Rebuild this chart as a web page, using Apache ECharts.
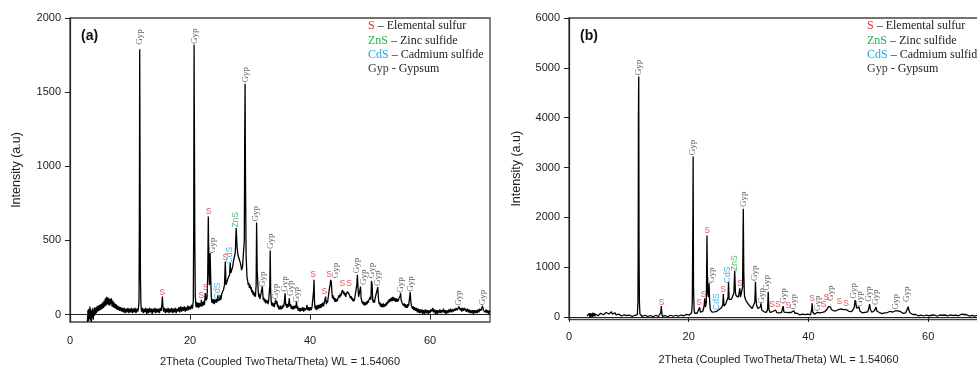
<!DOCTYPE html>
<html>
<head>
<meta charset="utf-8">
<script src="https://cdn.jsdelivr.net/npm/echarts@6/dist/echarts.min.js"></script>
<style>html,body{margin:0;padding:0;background:#fff}#c{width:977px;height:368px}</style>
</head>
<body>
<div id="c"></div>
<script>
// ---- data ----
const tickX = [0, 20, 40, 60];
const tickYA = [0, 500, 1000, 1500, 2000];
const tickYB = [0, 1000, 2000, 3000, 4000, 5000, 6000];
const panelTitles = ['(a)', '(b)'];
const xAxisName = '2Theta (Coupled TwoTheta/Theta) WL = 1.54060';
const yAxisName = 'Intensity (a.u)';
const legendKeys = ['S', 'ZnS', 'CdS', 'Gyp'];
const legendDescs = [' \u2013 Elemental sulfur', ' \u2013 Zinc sulfide', ' \u2013 Cadmium sulfide', ' - Gypsum'];

// pattern (a): [2theta, intensity]
const patternA = [[2.9,-50],[3.0,30],[3.08,-45],[3.16,40],[3.24,-30],[3.32,55],[3.4,-40],[3.48,35],[3.56,-50],[3.64,25],[3.72,-20],[3.8,45],[3.88,-35],[3.96,30],[4.04,-10],[4.12,50],[4.2,0],[4.3,45],[4.4,10],[4.5,55],[4.6,20],[4.7,60],[4.8,25],[4.9,65],[5.0,30],[5.1,70],[5.2,35],[5.3,75],[5.4,40],[5.5,85],[5.6,45],[5.7,95],[5.8,55],[5.9,110],[6.0,60],[6.1,120],[6.2,70],[6.3,115],[6.4,65],[6.5,110],[6.6,60],[6.7,105],[6.8,70],[6.9,110],[7.0,55],[7.1,95],[7.2,50],[7.3,85],[7.4,45],[7.5,75],[7.6,40],[7.7,70],[7.8,35],[7.9,60],[8.0,30],[8.15,55],[8.3,25],[8.45,50],[8.6,20],[8.75,45],[8.9,15],[9.05,45],[9.2,10],[9.35,40],[9.5,15],[9.65,45],[9.8,10],[9.95,40],[10.1,15],[10.25,45],[10.4,10],[10.55,40],[10.7,15],[10.85,45],[11.0,10],[11.15,40],[11.3,20],[11.42,50],[11.5,90],[11.56,600],[11.62,1790],[11.68,900],[11.74,250],[11.82,70],[11.92,20],[12.05,45],[12.2,10],[12.35,40],[12.5,15],[12.65,45],[12.8,5],[12.95,40],[13.1,10],[13.25,45],[13.4,15],[13.55,40],[13.7,5],[13.85,40],[14.0,15],[14.15,45],[14.3,10],[14.45,40],[14.6,15],[14.75,40],[14.9,10],[15.05,45],[15.2,25],[15.32,70],[15.4,121],[15.48,60],[15.6,20],[15.75,45],[15.9,10],[16.05,40],[16.2,15],[16.35,45],[16.5,10],[16.65,40],[16.8,15],[16.95,45],[17.1,10],[17.25,40],[17.4,15],[17.55,45],[17.7,10],[17.85,40],[18.0,20],[18.15,50],[18.3,15],[18.45,55],[18.6,20],[18.75,50],[18.9,25],[19.05,55],[19.2,20],[19.35,50],[19.5,25],[19.65,60],[19.8,30],[19.95,55],[20.1,35],[20.25,65],[20.4,40],[20.55,90],[20.62,600],[20.68,1820],[20.74,1200],[20.8,500],[20.88,120],[21.0,50],[21.1,85],[21.2,50],[21.3,80],[21.4,45],[21.5,80],[21.6,50],[21.7,75],[21.8,55],[21.9,100],[22.0,55],[22.1,85],[22.2,60],[22.3,90],[22.4,65],[22.55,145],[22.7,95],[22.85,115],[22.95,250],[23.05,662],[23.15,300],[23.25,200],[23.35,415],[23.45,250],[23.55,120],[23.65,80],[23.75,105],[23.85,75],[23.95,105],[24.05,70],[24.15,100],[24.25,80],[24.35,105],[24.45,80],[24.55,100],[24.65,130],[24.75,90],[24.85,115],[24.95,95],[25.05,130],[25.15,100],[25.3,140],[25.45,130],[25.6,170],[25.75,200],[25.88,358],[26.0,200],[26.15,210],[26.3,240],[26.45,230],[26.6,270],[26.7,350],[26.8,280],[26.95,300],[27.1,320],[27.25,360],[27.4,350],[27.55,420],[27.7,583],[27.85,450],[28.0,400],[28.15,410],[28.3,360],[28.45,340],[28.6,300],[28.75,320],[28.9,330],[29.05,500],[29.12,1200],[29.18,1557],[29.25,900],[29.35,400],[29.5,250],[29.6,230],[29.7,200],[29.8,215],[29.9,180],[30.0,200],[30.1,170],[30.2,185],[30.3,150],[30.4,165],[30.5,135],[30.6,155],[30.7,125],[30.8,145],[30.9,120],[31.02,200],[31.1,621],[31.2,300],[31.35,170],[31.45,120],[31.55,140],[31.65,105],[31.75,125],[31.9,120],[32.05,189],[32.2,100],[32.3,115],[32.4,85],[32.5,105],[32.6,75],[32.7,100],[32.8,80],[32.9,95],[33.0,70],[33.1,90],[33.2,85],[33.3,200],[33.37,432],[33.45,150],[33.55,80],[33.65,60],[33.75,80],[33.85,55],[33.95,75],[34.05,50],[34.15,75],[34.3,100],[34.4,70],[34.5,90],[34.6,50],[34.7,65],[34.8,35],[34.9,55],[35.0,35],[35.1,60],[35.2,35],[35.3,55],[35.4,40],[35.5,65],[35.6,50],[35.7,75],[35.85,144],[35.95,60],[36.05,75],[36.15,45],[36.25,70],[36.35,50],[36.45,75],[36.55,110],[36.65,55],[36.75,70],[36.85,40],[36.95,60],[37.05,35],[37.15,55],[37.25,35],[37.35,60],[37.45,40],[37.55,60],[37.65,45],[37.75,88],[37.85,40],[37.95,55],[38.05,25],[38.2,45],[38.35,20],[38.5,45],[38.65,25],[38.8,50],[38.95,20],[39.1,45],[39.25,30],[39.4,45],[39.5,65],[39.6,30],[39.75,50],[39.9,25],[40.05,50],[40.2,30],[40.35,55],[40.5,45],[40.6,160],[40.67,234],[40.75,90],[40.85,40],[40.95,60],[41.05,30],[41.15,60],[41.25,35],[41.35,65],[41.45,40],[41.55,65],[41.65,45],[41.75,70],[41.85,45],[41.95,75],[42.05,55],[42.15,80],[42.25,55],[42.35,75],[42.45,70],[42.6,121],[42.72,70],[42.82,95],[42.92,80],[43.02,110],[43.12,100],[43.25,180],[43.35,200],[43.45,234],[43.55,220],[43.65,150],[43.75,110],[43.85,130],[43.95,100],[44.05,115],[44.15,85],[44.25,110],[44.35,85],[44.45,105],[44.55,90],[44.65,110],[44.75,100],[44.85,130],[44.95,115],[45.05,140],[45.15,125],[45.25,150],[45.35,140],[45.45,165],[45.55,140],[45.65,155],[45.75,130],[45.85,145],[45.95,120],[46.05,140],[46.15,130],[46.25,155],[46.35,145],[46.45,165],[46.55,135],[46.65,140],[46.75,110],[46.85,125],[46.95,100],[47.05,115],[47.15,90],[47.25,105],[47.35,90],[47.45,110],[47.55,100],[47.65,120],[47.8,200],[47.9,268],[48.0,180],[48.1,120],[48.2,140],[48.3,150],[48.42,189],[48.52,110],[48.62,95],[48.72,75],[48.82,90],[48.92,65],[49.02,85],[49.12,60],[49.22,80],[49.32,65],[49.42,90],[49.52,70],[49.62,95],[49.72,80],[49.82,100],[49.92,90],[50.05,120],[50.15,100],[50.25,227],[50.35,200],[50.45,100],[50.55,80],[50.65,100],[50.75,80],[50.85,110],[50.95,100],[51.05,120],[51.15,110],[51.3,185],[51.42,100],[51.52,70],[51.62,85],[51.72,55],[51.82,75],[51.92,50],[52.02,70],[52.12,50],[52.22,75],[52.32,50],[52.42,70],[52.52,55],[52.62,75],[52.72,60],[52.82,85],[52.92,70],[53.02,95],[53.12,80],[53.22,105],[53.32,85],[53.42,110],[53.52,90],[53.62,115],[53.72,90],[53.82,120],[53.92,95],[54.02,115],[54.12,90],[54.22,110],[54.32,85],[54.42,110],[54.52,85],[54.62,105],[54.72,90],[54.82,110],[54.92,100],[55.02,125],[55.1,144],[55.2,95],[55.3,100],[55.4,75],[55.5,85],[55.6,60],[55.7,75],[55.8,50],[55.9,70],[56.0,45],[56.1,65],[56.2,45],[56.3,70],[56.4,55],[56.5,80],[56.6,90],[56.7,151],[56.8,90],[56.9,60],[57.0,70],[57.1,40],[57.2,55],[57.3,30],[57.45,50],[57.6,25],[57.75,45],[57.9,15],[58.05,40],[58.2,10],[58.35,35],[58.5,10],[58.65,35],[58.8,5],[58.95,30],[59.1,5],[59.25,35],[59.4,10],[59.55,30],[59.7,5],[59.85,30],[60.0,10],[60.15,35],[60.3,20],[60.45,45],[60.6,15],[60.75,35],[60.9,5],[61.05,30],[61.2,5],[61.35,30],[61.5,10],[61.65,35],[61.8,10],[61.95,30],[62.1,15],[62.25,40],[62.4,10],[62.55,30],[62.7,5],[62.85,30],[63.0,10],[63.15,35],[63.3,15],[63.45,40],[63.6,15],[63.75,35],[63.9,20],[64.05,40],[64.2,25],[64.35,45],[64.5,30],[64.65,40],[64.85,54],[65.0,30],[65.15,45],[65.3,20],[65.45,45],[65.6,25],[65.75,45],[65.9,50],[66.05,20],[66.2,40],[66.35,15],[66.5,35],[66.65,10],[66.8,30],[66.95,10],[67.1,30],[67.25,5],[67.4,30],[67.55,10],[67.7,30],[67.85,10],[68.0,35],[68.15,15],[68.3,40],[68.45,25],[68.6,40],[68.75,58],[68.9,30],[69.05,40],[69.2,15],[69.35,35],[69.5,10],[69.65,30],[69.8,5],[69.95,25],[70.0,15]];

// pattern (b): [2theta, intensity]
const patternB = [[3.0,20],[3.1,-20],[3.2,60],[3.3,0],[3.4,70],[3.5,-10],[3.6,80],[3.7,10],[3.8,70],[3.9,0],[4.0,90],[4.1,20],[4.2,80],[4.3,10],[4.4,60],[4.55,20],[4.7,60],[4.85,25],[5.0,65],[5.15,30],[5.3,75],[5.45,40],[5.6,80],[5.75,45],[5.9,85],[6.05,50],[6.2,90],[6.35,55],[6.5,95],[6.65,60],[6.8,100],[6.95,60],[7.1,105],[7.25,55],[7.4,95],[7.55,50],[7.7,85],[7.85,40],[8.0,70],[8.15,35],[8.3,60],[8.45,25],[8.6,55],[8.75,20],[8.9,45],[9.05,15],[9.2,45],[9.35,20],[9.5,55],[9.65,30],[9.8,50],[9.95,15],[10.1,40],[10.25,10],[10.4,40],[10.55,10],[10.7,35],[10.85,10],[11.0,35],[11.15,15],[11.3,40],[11.42,50],[11.52,300],[11.56,1400],[11.6,4050],[11.65,4827],[11.7,1400],[11.76,300],[11.85,60],[11.95,20],[12.1,40],[12.25,10],[12.4,35],[12.55,5],[12.7,35],[12.85,5],[13.0,30],[13.15,10],[13.3,35],[13.45,5],[13.6,30],[13.75,10],[13.9,35],[14.05,5],[14.2,30],[14.35,10],[14.5,35],[14.65,5],[14.8,30],[14.95,10],[15.1,35],[15.25,30],[15.33,90],[15.42,220],[15.52,60],[15.62,15],[15.75,35],[15.9,5],[16.05,30],[16.2,10],[16.35,35],[16.5,5],[16.65,30],[16.8,10],[16.95,35],[17.1,10],[17.25,35],[17.4,15],[17.55,40],[17.7,10],[17.85,35],[18.0,15],[18.15,40],[18.3,20],[18.45,45],[18.6,15],[18.75,40],[18.9,20],[19.05,50],[19.2,25],[19.35,55],[19.5,30],[19.65,55],[19.8,35],[19.95,60],[20.1,40],[20.25,65],[20.4,50],[20.5,90],[20.6,300],[20.66,1346],[20.7,2135],[20.74,3220],[20.8,600],[20.9,150],[21.0,75],[21.1,100],[21.2,70],[21.3,95],[21.4,75],[21.5,100],[21.6,85],[21.7,110],[21.83,195],[21.95,95],[22.05,120],[22.15,100],[22.25,130],[22.35,115],[22.45,150],[22.55,200],[22.68,375],[22.8,200],[22.95,300],[23.05,1633],[23.15,500],[23.3,400],[23.4,689],[23.5,300],[23.6,150],[23.7,120],[23.8,140],[23.9,100],[24.0,125],[24.1,100],[24.2,125],[24.3,105],[24.4,130],[24.5,110],[24.6,135],[24.7,115],[24.8,140],[24.9,150],[25.0,125],[25.1,150],[25.2,140],[25.3,170],[25.4,160],[25.5,190],[25.6,200],[25.7,250],[25.78,462],[25.9,220],[26.0,250],[26.1,235],[26.2,265],[26.3,260],[26.4,290],[26.5,300],[26.58,400],[26.65,709],[26.75,350],[26.85,320],[26.95,340],[27.05,330],[27.15,360],[27.25,350],[27.35,390],[27.45,400],[27.55,480],[27.68,930],[27.8,500],[27.9,430],[28.0,410],[28.1,420],[28.2,390],[28.3,400],[28.4,420],[28.55,576],[28.65,400],[28.75,380],[28.85,420],[29.0,600],[29.07,1547],[29.12,2170],[29.2,900],[29.3,450],[29.4,380],[29.5,350],[29.6,320],[29.7,310],[29.8,280],[29.9,270],[30.0,250],[30.1,240],[30.2,220],[30.3,210],[30.4,190],[30.5,185],[30.6,170],[30.7,175],[30.8,160],[30.9,170],[31.05,300],[31.15,709],[31.25,350],[31.35,230],[31.45,200],[31.55,170],[31.65,180],[31.75,150],[31.85,160],[31.95,200],[32.08,275],[32.2,140],[32.3,130],[32.4,115],[32.5,125],[32.6,105],[32.7,115],[32.8,95],[32.9,110],[33.0,95],[33.1,115],[33.18,160],[33.28,508],[33.4,150],[33.5,110],[33.6,90],[33.7,105],[33.8,85],[33.9,100],[34.0,95],[34.1,115],[34.2,130],[34.3,105],[34.4,115],[34.5,140],[34.6,100],[34.7,90],[34.8,75],[34.9,90],[35.0,70],[35.1,85],[35.2,65],[35.3,85],[35.4,70],[35.5,90],[35.6,85],[35.68,130],[35.78,220],[35.9,100],[36.0,70],[36.1,90],[36.2,70],[36.3,95],[36.4,85],[36.5,125],[36.6,80],[36.7,90],[36.8,70],[36.9,95],[37.0,75],[37.1,90],[37.2,70],[37.3,90],[37.4,80],[37.55,125],[37.65,85],[37.75,75],[37.85,85],[37.95,60],[38.1,75],[38.25,50],[38.4,65],[38.55,45],[38.7,65],[38.85,45],[39.0,60],[39.15,45],[39.3,85],[39.45,50],[39.6,65],[39.75,40],[39.9,60],[40.05,40],[40.2,60],[40.35,45],[40.48,70],[40.55,160],[40.62,275],[40.72,100],[40.82,60],[40.92,75],[41.02,55],[41.12,75],[41.22,60],[41.32,80],[41.42,75],[41.52,95],[41.62,70],[41.72,85],[41.82,65],[41.92,85],[42.02,70],[42.12,90],[42.22,75],[42.32,95],[42.42,90],[42.55,130],[42.65,90],[42.75,110],[42.85,100],[42.95,130],[43.05,140],[43.15,160],[43.25,180],[43.35,210],[43.45,240],[43.6,250],[43.72,200],[43.82,150],[43.92,125],[44.02,140],[44.12,115],[44.22,125],[44.32,105],[44.42,120],[44.52,110],[44.62,125],[44.72,115],[44.82,135],[44.92,130],[45.02,150],[45.12,140],[45.22,160],[45.32,150],[45.45,165],[45.55,150],[45.65,155],[45.75,140],[45.85,150],[45.95,135],[46.05,145],[46.15,135],[46.3,150],[46.45,135],[46.6,125],[46.75,115],[46.9,110],[47.05,100],[47.2,110],[47.35,105],[47.5,130],[47.62,180],[47.72,260],[47.82,341],[47.95,250],[48.05,180],[48.15,190],[48.3,170],[48.45,200],[48.6,120],[48.7,110],[48.8,95],[48.9,105],[49.0,85],[49.15,95],[49.3,80],[49.45,95],[49.6,85],[49.75,100],[49.9,105],[50.02,140],[50.1,180],[50.22,261],[50.35,150],[50.45,110],[50.6,95],[50.75,110],[50.9,100],[51.0,125],[51.1,130],[51.2,165],[51.3,200],[51.42,120],[51.55,95],[51.7,85],[51.85,90],[52.0,75],[52.15,85],[52.3,70],[52.45,80],[52.6,70],[52.75,85],[52.9,80],[53.05,95],[53.2,90],[53.35,105],[53.5,95],[53.65,115],[53.8,100],[53.95,115],[54.1,100],[54.25,115],[54.4,105],[54.55,125],[54.7,115],[54.85,130],[55.0,125],[55.1,150],[55.22,115],[55.35,110],[55.5,90],[55.65,95],[55.8,75],[55.95,85],[56.1,75],[56.25,85],[56.4,90],[56.55,110],[56.68,207],[56.8,130],[56.9,90],[57.0,80],[57.15,65],[57.3,70],[57.45,50],[57.6,55],[57.75,40],[57.9,50],[58.05,30],[58.2,45],[58.35,25],[58.5,45],[58.65,25],[58.8,40],[58.95,20],[59.1,40],[59.25,20],[59.4,40],[59.55,20],[59.7,40],[59.85,25],[60.0,35],[60.15,25],[60.3,45],[60.45,60],[60.6,35],[60.75,40],[60.9,20],[61.05,40],[61.2,20],[61.35,40],[61.5,15],[61.65,35],[61.8,20],[61.95,40],[62.1,25],[62.25,45],[62.4,35],[62.55,55],[62.7,30],[62.85,40],[63.0,20],[63.15,40],[63.3,25],[63.45,45],[63.6,30],[63.75,45],[63.9,40],[64.05,55],[64.2,30],[64.35,40],[64.5,20],[64.65,40],[64.8,20],[64.95,40],[65.1,25],[65.25,45],[65.4,35],[65.55,55],[65.7,40],[65.85,60],[66.0,50],[66.15,65],[66.3,40],[66.45,45],[66.6,25],[66.75,40],[66.9,20],[67.05,40],[67.2,20],[67.35,35],[67.5,15],[67.65,35],[67.8,20],[67.95,35],[68.1,15],[68.25,35],[68.4,20],[68.55,40],[68.7,20],[68.85,35],[69.0,25],[69.15,45],[69.3,25],[69.45,35],[69.6,15],[69.75,35],[69.9,20],[70.0,30]];

// peak annotations: [2theta, intensity at label centre, text]
const peakLabelsA = [[11.62,1872,'Gyp'],[20.75,1877,'Gyp'],[15.4,149,'S'],[21.9,128,'S'],[22.6,180,'S'],[23.1,693,'S'],[23.8,466,'Gyp'],[24.65,160,'CdS'],[25.9,385,'S'],[26.6,401,'CdS'],[27.6,639,'ZnS'],[29.2,1618,'Gyp'],[31.0,680,'Gyp'],[32.1,239,'Gyp'],[33.4,495,'Gyp'],[34.2,155,'Gyp'],[35.7,207,'Gyp'],[36.8,178,'Gyp'],[37.8,133,'Gyp'],[40.5,268,'S'],[42.4,155,'S'],[43.2,268,'S'],[44.2,297,'Gyp'],[45.4,207,'S'],[46.5,207,'S'],[47.75,331,'Gyp'],[48.9,252,'Gyp'],[50.3,297,'Gyp'],[51.35,245,'Gyp'],[55.1,200,'Gyp'],[56.8,207,'Gyp'],[64.8,111,'Gyp'],[68.7,115,'Gyp']];
const peakLabelsB = [[11.65,5008,'Gyp'],[15.45,295,'S'],[20.6,3401,'Gyp'],[21.74,287,'S'],[22.5,448,'S'],[23.08,1734,'S'],[23.8,838,'Gyp'],[24.65,309,'CdS'],[25.75,556,'S'],[26.55,844,'CdS'],[27.7,1079,'ZnS'],[28.55,663,'S'],[29.2,2364,'Gyp'],[30.95,878,'Gyp'],[32.17,428,'Gyp'],[33.1,689,'Gyp'],[34.4,241,'SS'],[35.8,422,'Gyp'],[36.6,235,'S'],[37.6,307,'Gyp'],[40.6,361,'S'],[41.6,275,'Gyp'],[42.55,241,'S'],[43.0,388,'S'],[43.75,476,'Gyp'],[45.15,307,'S'],[46.3,261,'S'],[47.6,529,'Gyp'],[48.5,361,'Gyp'],[50.0,462,'Gyp'],[51.2,395,'Gyp'],[54.6,307,'Gyp'],[56.4,455,'Gyp']];

// ---- styles ----
const phaseColor = { S: '#e52a2f', SS: '#e52a2f', ZnS: '#27ae4f', CdS: '#1fa8e0', Gyp: '#3a3a3a' };
const sansFont = 'Liberation Sans, Arial, sans-serif';
const serifFont = 'Liberation Serif, Times New Roman, serif';

const chart = echarts.init(document.getElementById('c'), null, { renderer: 'canvas' });

const grids = [
  { left: 70, top: 18, width: 420, height: 304 },
  { left: 569, top: 18, width: 419, height: 301.5 }
];
const yTicks = [tickYA, tickYB];
const yMax = [2000, 6000];
const nameGapY = [47, 46];
const xLabelMargin = [13, 12];
const xNameGap = [34, 35];

function labelItems(list) {
  return list.map(function (p) {
    const t = p[2];
    const upright = (t === 'S' || t === 'SS');
    return {
      value: [p[0], p[1]],
      name: t,
      label: {
        show: true,
        position: 'inside',
        rotate: upright ? 0.0001 : 90,
        color: phaseColor[t],
        fontFamily: t === 'Gyp' ? serifFont : sansFont,
        fontSize: t === 'Gyp' ? 9 : 8.5
      }
    };
  });
}

const option = {
  backgroundColor: '#fff',
  animation: false,
  title: panelTitles.map(function (t, i) {
    return { text: t, left: i === 0 ? 76 : 575, top: 24,
      textStyle: { fontSize: 14, fontWeight: 'bold', fontFamily: sansFont, color: '#111' } };
  }),
  grid: grids.map(function (g) {
    return Object.assign({ show: true, borderColor: '#444', borderWidth: 1.3, backgroundColor: 'transparent',
      containLabel: false, outerBoundsMode: 'none' }, g);
  }),
  xAxis: [0, 1].map(function (i) {
    return {
      gridIndex: i, type: 'value', min: 0, max: 70,
      axisLine: { show: true, lineStyle: { color: '#222', width: 1.2 } },
      axisTick: { show: true, customValues: tickX, length: 5, lineStyle: { color: '#222' } },
      axisLabel: { customValues: tickX, fontSize: 11, color: '#222', margin: xLabelMargin[i], fontFamily: sansFont,
        formatter: function (v) { return String(v); } },
      splitLine: { show: false },
      name: xAxisName, nameLocation: 'middle', nameGap: xNameGap[i],
      nameTextStyle: { fontSize: 11, color: '#222', fontFamily: sansFont }
    };
  }),
  yAxis: [0, 1].map(function (i) {
    return {
      gridIndex: i, type: 'value', min: -50, max: yMax[i],
      axisLine: { show: true, lineStyle: { color: '#222', width: 1.2 } },
      axisTick: { show: true, customValues: yTicks[i], length: 5, lineStyle: { color: '#222' } },
      axisLabel: { customValues: yTicks[i], fontSize: 11, color: '#222', margin: 9, fontFamily: sansFont,
        formatter: function (v) { return String(v); } },
      splitLine: { show: false },
      name: yAxisName, nameLocation: 'middle', nameGap: nameGapY[i],
      nameTextStyle: { fontSize: 12.5, color: '#222', fontFamily: sansFont }
    };
  }),
  graphic: [0, 1].map(function (i) {
    const x0 = i === 0 ? 368 : 867;
    return {
      type: 'group', left: x0, top: 20,
      children: legendKeys.map(function (k, j) {
        return {
          type: 'text', x: 0, y: j * 14.4,
          style: {
            text: '{k|' + k + '}{d|' + legendDescs[j] + '}',
            rich: {
              k: { fill: phaseColor[k], fontSize: 12, fontFamily: serifFont },
              d: { fill: '#222', fontSize: 12, fontFamily: serifFont }
            }
          }
        };
      })
    };
  }),
  series: [
    { type: 'line', xAxisIndex: 0, yAxisIndex: 0, data: patternA, showSymbol: false, symbol: 'none',
      lineStyle: { color: '#000', width: 1.3 }, silent: true, z: 2 },
    { type: 'line', xAxisIndex: 1, yAxisIndex: 1, data: patternB, showSymbol: false, symbol: 'none',
      lineStyle: { color: '#000', width: 1.3 }, silent: true, z: 2 },
    { type: 'scatter', xAxisIndex: 0, yAxisIndex: 0, symbolSize: 0, silent: true, z: 3,
      data: labelItems(peakLabelsA),
      label: { show: true, position: 'inside', formatter: '{b}' } },
    { type: 'scatter', xAxisIndex: 1, yAxisIndex: 1, symbolSize: 0, silent: true, z: 3,
      data: labelItems(peakLabelsB),
      label: { show: true, position: 'inside', formatter: '{b}' } }
  ]
};
chart.setOption(option);
</script>
</body>
</html>
